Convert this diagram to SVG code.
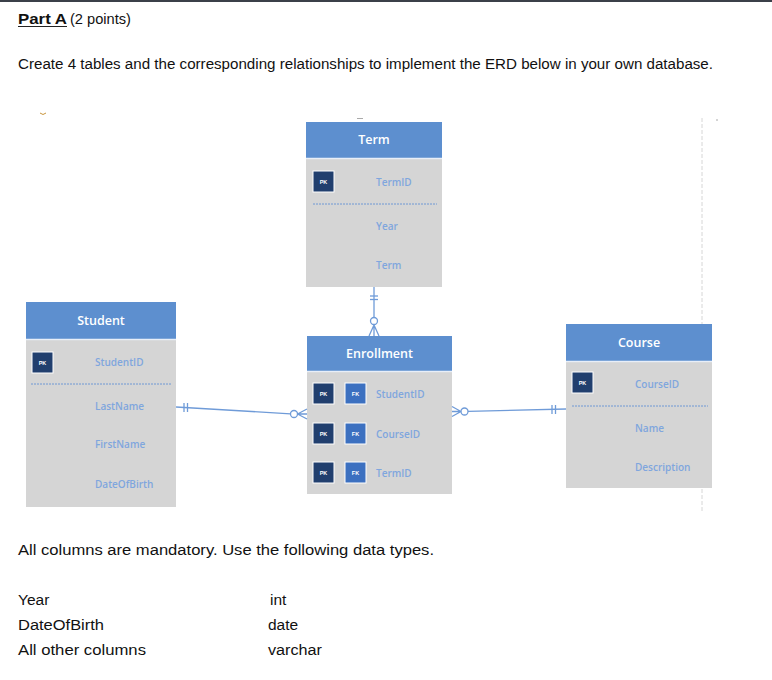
<svg xmlns="http://www.w3.org/2000/svg" width="772" height="680" viewBox="0 0 772 680">
<style>
.txt{font-family:"Liberation Sans",Arial,sans-serif;font-size:15.5px;fill:#111}
.hdr{fill:#5d8fcf}
.body{fill:#d5d5d5}
.htxt{font-family:"Open Sans","Liberation Sans",sans-serif;font-size:12.5px;font-weight:600;fill:#fff;text-anchor:middle}
.ftxt{font-family:"Open Sans","Liberation Sans",sans-serif;font-size:10px;font-weight:600;fill:#7fa6de}
.pk{fill:#213f6e;stroke:#fff;stroke-width:1}
.fk{fill:#3c70c0;stroke:#fff;stroke-width:1}
.ktxt{font-family:"Liberation Sans",sans-serif;font-size:5.5px;font-weight:bold;fill:#fff;text-anchor:middle}
.dash{stroke:#6f98d4;stroke-width:1;stroke-dasharray:2 1}
.sep{stroke:#e8eef8;stroke-width:1.5}
.conn{stroke:#6f9bd8;stroke-width:1.3;fill:none}
</style>
<rect x="0" y="0" width="772" height="680" fill="#fff"/>
<rect x="0" y="0" width="772" height="2" fill="#3b4049"/>
<g id="title">
<text class="txt" x="18" y="24" font-weight="bold" textLength="49" lengthAdjust="spacingAndGlyphs">Part A</text>
<line x1="18" y1="26.5" x2="67" y2="26.5" stroke="#222" stroke-width="1"/>
<text class="txt" x="70" y="24" textLength="61" lengthAdjust="spacingAndGlyphs">(2 points)</text>
<text class="txt" x="18" y="69" textLength="695" lengthAdjust="spacingAndGlyphs">Create 4 tables and the corresponding relationships to implement the ERD below in your own database.</text>
</g>
<path d="M40 113 q3 3 6 0" stroke="#c9953c" stroke-width="1" fill="none"/>
<line x1="357" y1="118.5" x2="363" y2="118.5" stroke="#aaa" stroke-width="1"/>
<line x1="716" y1="120" x2="718" y2="120" stroke="#aaa" stroke-width="1"/>
<g id="guide">
<line x1="702" y1="118" x2="702" y2="324" stroke="#d6d6d6" stroke-width="1" stroke-dasharray="4 2"/>
<line x1="702" y1="489" x2="702" y2="512" stroke="#d6d6d6" stroke-width="1" stroke-dasharray="4 2"/>
</g>
<g id="Term">
<rect class="hdr" x="306" y="122" width="136" height="36"/>
<rect class="body" x="306" y="158" width="136" height="129"/>
<line class="sep" x1="306" y1="158.5" x2="442" y2="158.5"/>
<text class="htxt" x="374" y="144">Term</text>
<rect class="pk" x="313" y="171" width="21" height="21"/>
<text class="ktxt" x="323.5" y="183.5">PK</text>
<text class="ftxt" x="376" y="185.5">TermID</text>
<line class="dash" x1="313" y1="204" x2="437" y2="204"/>
<text class="ftxt" x="376" y="229.5">Year</text>
<text class="ftxt" x="376" y="268.5">Term</text>
</g>
<g id="Student">
<rect class="hdr" x="26" y="302" width="150" height="37"/>
<rect class="body" x="26" y="339" width="150" height="168"/>
<line class="sep" x1="26" y1="339.5" x2="176" y2="339.5"/>
<text class="htxt" x="101" y="325">Student</text>
<rect class="pk" x="32" y="352" width="21" height="21"/>
<text class="ktxt" x="42.5" y="364.5">PK</text>
<text class="ftxt" x="95" y="365.5">StudentID</text>
<line class="dash" x1="31" y1="384" x2="172" y2="384"/>
<text class="ftxt" x="95" y="409.5">LastName</text>
<text class="ftxt" x="95" y="447.5">FirstName</text>
<text class="ftxt" x="95" y="487.5">DateOfBirth</text>
</g>
<g id="Enrollment">
<rect class="hdr" x="307" y="336" width="145" height="35"/>
<rect class="body" x="307" y="371" width="145" height="123"/>
<line class="sep" x1="307" y1="371.5" x2="452" y2="371.5"/>
<text class="htxt" x="379.5" y="357.5">Enrollment</text>
<rect class="pk" x="313" y="383" width="21" height="21"/>
<text class="ktxt" x="323.5" y="395.5">PK</text>
<rect class="fk" x="345" y="383" width="21" height="21"/>
<text class="ktxt" x="355.5" y="395.5">FK</text>
<text class="ftxt" x="376" y="397.5">StudentID</text>
<rect class="pk" x="313" y="423" width="21" height="21"/>
<text class="ktxt" x="323.5" y="435.5">PK</text>
<rect class="fk" x="345" y="423" width="21" height="21"/>
<text class="ktxt" x="355.5" y="435.5">FK</text>
<text class="ftxt" x="376" y="437.5">CourseID</text>
<rect class="pk" x="313" y="462" width="21" height="21"/>
<text class="ktxt" x="323.5" y="474.5">PK</text>
<rect class="fk" x="345" y="462" width="21" height="21"/>
<text class="ktxt" x="355.5" y="474.5">FK</text>
<text class="ftxt" x="376" y="476.5">TermID</text>
</g>
<g id="Course">
<rect class="hdr" x="566" y="324" width="146" height="37"/>
<rect class="body" x="566" y="361" width="146" height="127"/>
<line class="sep" x1="566" y1="361.5" x2="712" y2="361.5"/>
<text class="htxt" x="639" y="346.5">Course</text>
<rect class="pk" x="572" y="372" width="21" height="21"/>
<text class="ktxt" x="582.5" y="384.5">PK</text>
<text class="ftxt" x="635" y="387.5">CourseID</text>
<line class="dash" x1="572" y1="406" x2="708" y2="406"/>
<text class="ftxt" x="635" y="431.5">Name</text>
<text class="ftxt" x="635" y="470.5">Description</text>
</g>
<g id="connectors">
<line class="conn" x1="374" y1="287" x2="374" y2="317.5"/>
<line class="conn" x1="370" y1="296" x2="378" y2="296"/>
<line class="conn" x1="370" y1="299.5" x2="378" y2="299.5"/>
<circle class="conn" cx="374" cy="321" r="3.5" fill="#fff"/>
<path class="conn" d="M374 325 L369 336 M374 325 L374 336 M374 325 L379 336"/>
<line class="conn" x1="176" y1="407" x2="290.5" y2="413.8"/>
<line class="conn" x1="184" y1="403" x2="184" y2="412"/>
<line class="conn" x1="187.5" y1="403" x2="187.5" y2="412"/>
<circle class="conn" cx="294" cy="414" r="3.5" fill="#fff"/>
<path class="conn" d="M297.5 414 L307 409 M297.5 414 L307 414 M297.5 414 L307 419"/>
<path class="conn" d="M461 411.5 L452 406.5 M461 411.5 L452 411.5 M461 411.5 L452 416.5"/>
<circle class="conn" cx="464.5" cy="411.5" r="3.5" fill="#fff"/>
<line class="conn" x1="468" y1="411.3" x2="566" y2="409"/>
<line class="conn" x1="552" y1="405" x2="552" y2="414"/>
<line class="conn" x1="555.5" y1="405" x2="555.5" y2="414"/>
</g>
<g id="notes">
<text class="txt" x="18" y="555" textLength="416" lengthAdjust="spacingAndGlyphs">All columns are mandatory. Use the following data types.</text>
<text class="txt" x="18" y="605">Year</text>
<text class="txt" x="18" y="630" textLength="86" lengthAdjust="spacingAndGlyphs">DateOfBirth</text>
<text class="txt" x="18" y="655" textLength="128" lengthAdjust="spacingAndGlyphs">All other columns</text>
<text class="txt" x="270" y="605">int</text>
<text class="txt" x="268" y="630">date</text>
<text class="txt" x="268" y="655" textLength="54" lengthAdjust="spacingAndGlyphs">varchar</text>
</g>
</svg>
